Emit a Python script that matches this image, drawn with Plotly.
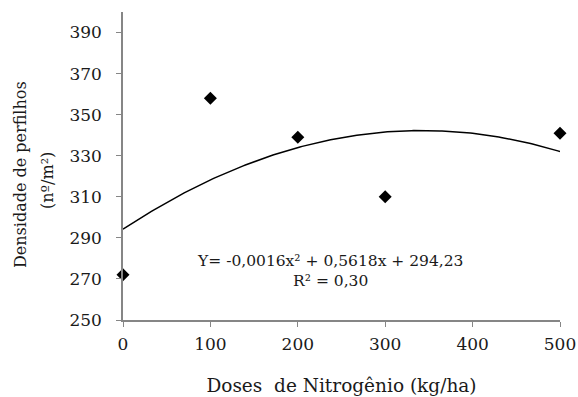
import numpy as np
import plotly.graph_objects as go

doses = [0, 100, 200, 300, 500]
densidade = [272, 358, 339, 310, 341]
x_ticks = [0, 100, 200, 300, 400, 500]
y_ticks = [250, 270, 290, 310, 330, 350, 370, 390]
eq_text = "Y= -0,0016x² + 0,5618x + 294,23"
r2_text = "R² = 0,30"
y_title_1 = "Densidade de perfilhos"
y_title_2 = "(nº/m²)"

coef = np.polyfit(doses, densidade, 2)
xf = np.linspace(0, 500, 201)
yf = np.polyval(coef, xf)

FONT = "Palatino Linotype, Book Antiqua, DejaVu Serif, serif"
AX = "#868686"
TXT = "#1a1a1a"

fig = go.Figure()
fig.add_trace(go.Scatter(x=xf, y=yf, mode="lines",
                         line=dict(color="black", width=1.5), hoverinfo="skip"))
fig.add_trace(go.Scatter(x=doses, y=densidade, mode="markers", cliponaxis=False,
                         marker=dict(symbol="diamond", size=10, color="black")))

fig.add_annotation(x=0.474, y=0.158, xref="paper", yref="paper",
                   xanchor="center", yanchor="middle",
                   text=eq_text + "<br>" + r2_text, showarrow=False,
                   align="center", font=dict(family=FONT, size=15.5, color=TXT))

# y-axis title (two rotated lines)
fig.add_annotation(x=-0.2357, y=0.474, xref="paper", yref="paper",
                   xanchor="center", yanchor="middle", textangle=-90,
                   text=y_title_1, showarrow=False,
                   font=dict(family=FONT, size=16, color=TXT))
fig.add_annotation(x=-0.174, y=0.4545, xref="paper", yref="paper",
                   xanchor="center", yanchor="middle", textangle=-90,
                   text=y_title_2, showarrow=False,
                   font=dict(family=FONT, size=16, color=TXT))

fig.update_layout(
    width=578, height=397,
    margin=dict(l=123, r=18, t=12, b=77),
    plot_bgcolor="white", paper_bgcolor="white",
    showlegend=False,
    font=dict(family=FONT, size=17, color=TXT),
)
fig.update_xaxes(range=[0, 500], tickvals=x_ticks, showgrid=False, zeroline=False,
                 automargin=False,
                 showline=True, linecolor=AX, linewidth=1.5,
                 ticks="outside", ticklen=5, tickcolor=AX, ticklabelstandoff=3,
                 title=dict(text="Doses  de Nitrogênio (kg/ha)", standoff=26,
                            font=dict(size=18.5)))
fig.update_yaxes(range=[250, 400], tickvals=y_ticks, showgrid=False, zeroline=False,
                 automargin=False,
                 showline=True, linecolor=AX, linewidth=1.5,
                 ticks="outside", ticklen=5, tickcolor=AX, ticklabelstandoff=11)

fig.write_html("out.html")
